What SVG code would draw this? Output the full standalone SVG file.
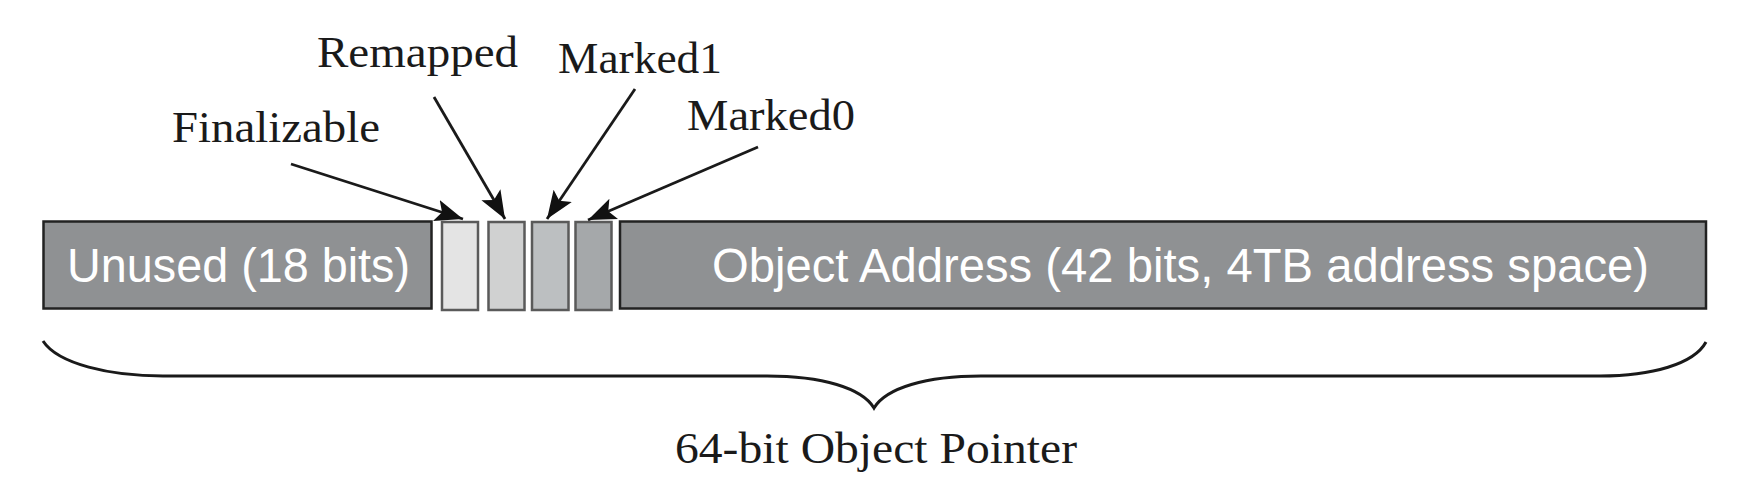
<svg xmlns="http://www.w3.org/2000/svg" width="1762" height="482" viewBox="0 0 1762 482">
<defs>
<style>
.bar{fill:#8f9193;stroke:#222;stroke-width:2.5}
.bit{stroke:#5a5a5a;stroke-width:2.5}
.in{font-family:"Liberation Sans",Arial,sans-serif;font-size:48px;fill:#fff}
.lbl{font-family:"Liberation Serif","Times New Roman",serif;font-size:44px;fill:#1a1a1a}
.ar{stroke:#1a1a1a;stroke-width:2.8;fill:none}
</style>
<marker id="ah" markerUnits="userSpaceOnUse" markerWidth="30" markerHeight="24" refX="28" refY="12" orient="auto">
<path d="M0,1 L28,12 L0,23 L6,12 Z" fill="#111"/>
</marker>
</defs>
<rect width="1762" height="482" fill="#fff"/>
<g id="unused">
<rect class="bar" x="43.5" y="221.5" width="388" height="87"/>
<text class="in" x="67" y="282" textLength="343" lengthAdjust="spacingAndGlyphs">Unused (18 bits)</text>
</g>
<g id="finalizable-bit"><rect class="bit" x="442" y="222" width="36" height="88" fill="#e4e4e4"/></g>
<g id="remapped-bit"><rect class="bit" x="488.5" y="222" width="36" height="88" fill="#d0d1d1"/></g>
<g id="marked1-bit"><rect class="bit" x="532" y="222" width="36.5" height="88" fill="#bcbfc1"/></g>
<g id="marked0-bit"><rect class="bit" x="575.5" y="222" width="36" height="88" fill="#a5a8aa"/></g>
<g id="address">
<rect class="bar" x="620" y="221.5" width="1086" height="87"/>
<text class="in" x="712" y="282" textLength="937" lengthAdjust="spacingAndGlyphs">Object Address (42 bits, 4TB address space)</text>
</g>
<g id="label-finalizable"><text class="lbl" x="172" y="142" textLength="208" lengthAdjust="spacingAndGlyphs">Finalizable</text></g>
<g id="label-remapped"><text class="lbl" x="317" y="67" textLength="201" lengthAdjust="spacingAndGlyphs">Remapped</text></g>
<g id="label-marked1"><text class="lbl" x="558" y="73" textLength="164" lengthAdjust="spacingAndGlyphs">Marked1</text></g>
<g id="label-marked0"><text class="lbl" x="687" y="130" textLength="168" lengthAdjust="spacingAndGlyphs">Marked0</text></g>
<g id="connectors">
<line class="ar" x1="291" y1="164" x2="463" y2="219" marker-end="url(#ah)"/>
<line class="ar" x1="434" y1="97" x2="505" y2="219" marker-end="url(#ah)"/>
<line class="ar" x1="635" y1="89" x2="547" y2="219" marker-end="url(#ah)"/>
<line class="ar" x1="758" y1="147" x2="588" y2="220" marker-end="url(#ah)"/>
</g>
<g id="brace">
<path d="M43,341 C58,364 110,376 163,376 L767,376 C822,376 862,388 874,408 C886,388 926,376 981,376 L1600,376 C1652,376 1694,364 1706,342" fill="none" stroke="#1a1a1a" stroke-width="3"/>
<text class="lbl" x="675" y="463" font-size="45" textLength="402" lengthAdjust="spacingAndGlyphs">64-bit Object Pointer</text>
</g>
</svg>
